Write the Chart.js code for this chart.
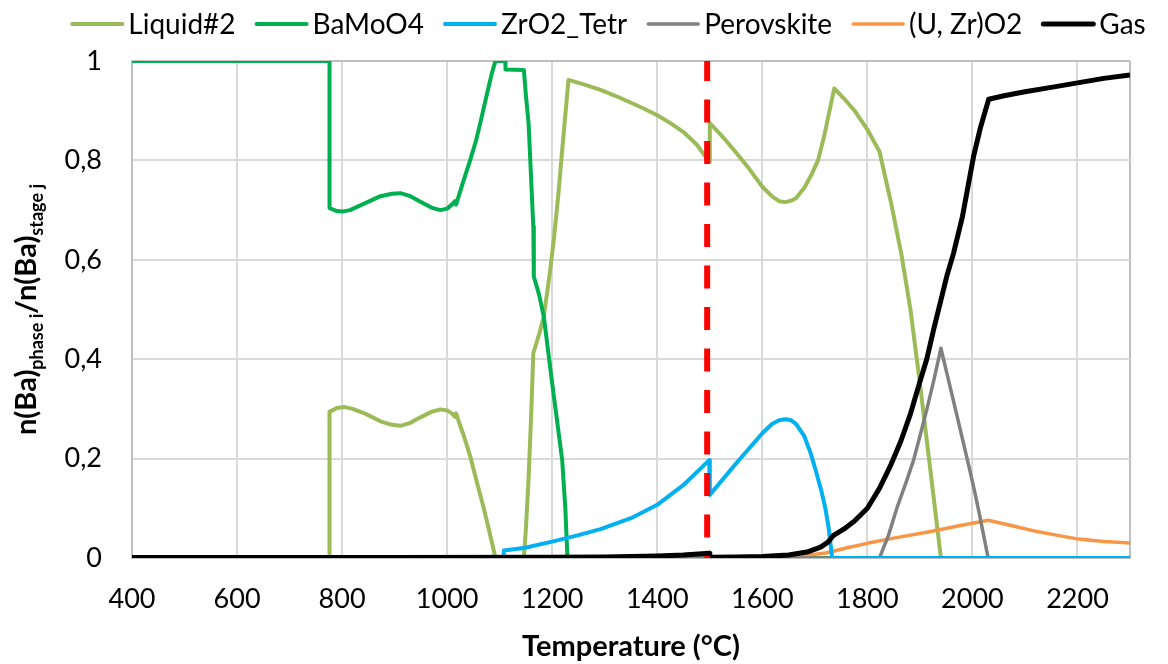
<!DOCTYPE html>
<html>
<head>
<meta charset="utf-8">
<script src="https://cdn.jsdelivr.net/npm/chart.js@4.4.1/dist/chart.umd.min.js"></script>
<style>
  html, body { margin: 0; padding: 0; background: #ffffff; }
  #wrap { width: 1168px; height: 664px; }
</style>
</head>
<body>
<div id="wrap"><canvas id="chart" width="1168" height="664"></canvas></div>
<script>
// Ba distribution between phases versus temperature

// Liquid#2
const liquidT = [400, 776, 776, 790, 803, 820, 845, 873, 895, 911, 930, 949, 970, 987, 1000, 1010, 1015, 1017, 1022, 1032, 1044, 1056, 1069, 1080, 1092, 1146, 1150, 1155, 1160, 1164, 1175, 1184, 1195, 1203, 1212, 1219, 1231, 1260, 1292, 1320, 1350, 1375, 1400, 1425, 1450, 1475, 1499, 1500, 1525, 1550, 1575, 1600, 1619, 1632, 1644, 1655, 1664, 1680, 1693, 1706, 1718, 1728, 1737, 1755, 1775, 1800, 1823, 1845, 1865, 1882, 1899, 1919, 1940, 2300];
const liquidV = [0, 0, 0.294, 0.302, 0.304, 0.300, 0.290, 0.275, 0.268, 0.266, 0.272, 0.283, 0.294, 0.299, 0.297, 0.290, 0.284, 0.291, 0.275, 0.245, 0.204, 0.155, 0.103, 0.055, 0.0, 0, 0.06, 0.16, 0.29, 0.412, 0.45, 0.486, 0.57, 0.64, 0.735, 0.821, 0.962, 0.953, 0.942, 0.930, 0.916, 0.904, 0.891, 0.875, 0.857, 0.832, 0.797, 0.875, 0.847, 0.816, 0.783, 0.747, 0.727, 0.718, 0.716, 0.719, 0.724, 0.745, 0.77, 0.80, 0.85, 0.90, 0.945, 0.925, 0.901, 0.862, 0.818, 0.715, 0.61, 0.50, 0.36, 0.185, 0.0, 0];

// BaMoO4
const bamoT = [400, 776, 776, 790, 800, 815, 840, 873, 895, 911, 930, 949, 970, 987, 1000, 1010, 1015, 1017, 1022, 1032, 1044, 1055, 1063, 1075, 1085, 1092, 1111, 1111, 1146, 1150, 1155, 1160, 1164, 1165, 1175, 1184, 1200, 1210, 1219, 1225, 1229, 2300];
const bamoV = [1, 1, 0.704, 0.698, 0.697, 0.700, 0.712, 0.728, 0.733, 0.734, 0.728, 0.717, 0.705, 0.700, 0.703, 0.712, 0.718, 0.711, 0.728, 0.762, 0.801, 0.840, 0.875, 0.930, 0.975, 1.0, 1.0, 0.983, 0.982, 0.93, 0.875, 0.76, 0.667, 0.566, 0.53, 0.486, 0.351, 0.27, 0.197, 0.1, 0.0, 0];

// ZrO2_Tetr
const zrT = [400, 1108, 1108, 1146, 1200, 1250, 1292, 1350, 1400, 1450, 1499, 1500, 1550, 1600, 1619, 1632, 1644, 1655, 1664, 1680, 1692, 1702, 1712, 1720, 1726, 1733, 2300];
const zrV = [0, 0, 0.015, 0.02, 0.033, 0.046, 0.058, 0.08, 0.107, 0.147, 0.197, 0.127, 0.19, 0.251, 0.27, 0.277, 0.279, 0.277, 0.27, 0.245, 0.211, 0.175, 0.137, 0.1, 0.063, 0.0, 0];

// Perovskite
const perT = [400, 1823, 1840, 1857, 1873, 1888, 1900, 1913, 1927, 1940, 1954, 1968, 1982, 1995, 2005, 2013, 2030, 2300];
const perV = [0, 0, 0.045, 0.103, 0.15, 0.197, 0.245, 0.298, 0.36, 0.422, 0.36, 0.298, 0.235, 0.177, 0.13, 0.09, 0.0, 0];

// (U, Zr)O2
const uzT = [1500, 1550, 1600, 1650, 1690, 1720, 1733, 1760, 1802, 1850, 1913, 1970, 2030, 2080, 2120, 2160, 2202, 2250, 2300];
const uzV = [0, 0.0005, 0.001, 0.003, 0.006, 0.01, 0.013, 0.02, 0.03, 0.04, 0.052, 0.064, 0.076, 0.064, 0.054, 0.046, 0.038, 0.033, 0.03];

// Gas
const gasT = [400, 900, 1200, 1300, 1400, 1450, 1499, 1500, 1550, 1600, 1650, 1685, 1711, 1725, 1735, 1755, 1775, 1800, 1823, 1845, 1864, 1882, 1899, 1913, 1926, 1940, 1952, 1964, 1981, 1992, 2002, 2015, 2031, 2060, 2100, 2150, 2200, 2250, 2300];
const gasV = [0.001, 0.001, 0.0015, 0.002, 0.004, 0.006, 0.0095, 0.0015, 0.002, 0.003, 0.006, 0.012, 0.022, 0.032, 0.045, 0.058, 0.074, 0.1, 0.14, 0.188, 0.236, 0.29, 0.351, 0.40, 0.459, 0.519, 0.57, 0.613, 0.687, 0.75, 0.807, 0.865, 0.923, 0.930, 0.938, 0.947, 0.956, 0.965, 0.972];

// stage boundary (vertical dashed line)
const stageT = [1495, 1495];
const stageV = [1.006, 0];

const seriesNames = ['Liquid#2', 'BaMoO4', 'ZrO2_Tetr', 'Perovskite', '(U, Zr)O2', 'Gas'];

const xTickValues = [400, 600, 800, 1000, 1200, 1400, 1600, 1800, 2000, 2200];
const xTickLabels = ['400', '600', '800', '1000', '1200', '1400', '1600', '1800', '2000', '2200'];
const yTickValues = [0, 0.2, 0.4, 0.6, 0.8, 1];
const yTickLabels = ['0', '0,2', '0,4', '0,6', '0,8', '1'];

const X_MIN = 400, X_MAX = 2300;
const FONT = 'Lato, "Open Sans", sans-serif';

function pts(t, v) { return t.map((x, i) => ({ x: x, y: v[i] })); }

function line(label, t, v, color, width, order) {
  return {
    label: label, data: pts(t, v),
    borderColor: color, backgroundColor: color,
    borderWidth: width, pointRadius: 0, pointHoverRadius: 0,
    tension: 0, fill: false, order: order,
    borderJoinStyle: 'round', borderCapStyle: 'butt'
  };
}

const datasets = [
  line(seriesNames[0], liquidT, liquidV, '#9BBB59', 4, 6),
  line(seriesNames[1], bamoT, bamoV, '#00B050', 4, 5),
  line(seriesNames[2], zrT, zrV, '#00B0F0', 4, 2),
  line(seriesNames[3], perT, perV, '#808080', 3.5, 3),
  line(seriesNames[4], uzT, uzV, '#F79646', 3.5, 4),
  line(seriesNames[5], gasT, gasV, '#000000', 5, 1),
  Object.assign(line('', stageT, stageV, '#FF0000', 6, 0), { borderDash: [23, 18.5], isStage: true })
];

// legend drawn along the top, line sample + name
const legendPlugin = {
  id: 'phaseLegend',
  afterDraw(chart) {
    const ctx = chart.ctx;
    const sample = 54, gapText = 4, gapItem = 19, cy = 24, centerX = 608;
    ctx.save();
    ctx.font = '28px ' + FONT;
    ctx.textBaseline = 'middle';
    ctx.textAlign = 'left';
    const items = chart.data.datasets.filter(d => !d.isStage);
    let total = 0;
    items.forEach((d, i) => {
      total += sample + gapText + ctx.measureText(d.label).width + (i < items.length - 1 ? gapItem : 0);
    });
    let x = centerX - total / 2;
    items.forEach(d => {
      ctx.strokeStyle = d.borderColor;
      ctx.lineWidth = d.borderWidth;
      ctx.lineCap = 'round';
      ctx.beginPath();
      ctx.moveTo(x + 2, cy);
      ctx.lineTo(x + sample - 2, cy);
      ctx.stroke();
      x += sample + gapText;
      ctx.fillStyle = '#000000';
      ctx.fillText(d.label, x, cy + 1);
      x += ctx.measureText(d.label).width + gapItem;
    });
    ctx.restore();
  }
};

// rotated y-axis title with subscripts
const yTitleParts = [
  { text: 'n(Ba)', sub: false },
  { text: 'phase i', sub: true },
  { text: '/n(Ba)', sub: false },
  { text: 'stage j', sub: true }
];
const yTitlePlugin = {
  id: 'yTitle',
  afterDraw(chart) {
    const ctx = chart.ctx;
    const area = chart.chartArea;
    const mainFont = 'bold 29px ' + FONT;
    const subFont = 'bold 18px ' + FONT;
    ctx.save();
    let total = 0;
    yTitleParts.forEach(p => { ctx.font = p.sub ? subFont : mainFont; total += ctx.measureText(p.text).width; });
    ctx.translate(36, (area.top + area.bottom) / 2);
    ctx.rotate(-Math.PI / 2);
    ctx.fillStyle = '#000000';
    ctx.textBaseline = 'alphabetic';
    ctx.textAlign = 'left';
    let x = -total / 2;
    yTitleParts.forEach(p => {
      ctx.font = p.sub ? subFont : mainFont;
      ctx.fillText(p.text, x, p.sub ? 7 : 0);
      x += ctx.measureText(p.text).width;
    });
    ctx.restore();
  }
};

new Chart(document.getElementById('chart'), {
  type: 'line',
  data: { datasets: datasets },
  plugins: [legendPlugin, yTitlePlugin],
  options: {
    responsive: false,
    devicePixelRatio: 1,
    animation: false,
    layout: { padding: { top: 61, right: 38, bottom: 0, left: 0 } },
    plugins: {
      legend: { display: false },
      tooltip: { enabled: false },
      title: { display: false }
    },
    scales: {
      x: {
        type: 'linear',
        min: X_MIN, max: X_MAX,
        afterBuildTicks(scale) { scale.ticks = xTickValues.concat([X_MAX]).map(v => ({ value: v })); },
        afterFit(scale) { scale.height = 106; },
        ticks: {
          autoSkip: false, maxRotation: 0, minRotation: 0,
          padding: 25, color: '#000000',
          font: { family: FONT, size: 27 },
          callback(value) { const i = xTickValues.indexOf(value); return i >= 0 ? xTickLabels[i] : ''; }
        },
        grid: {
          drawTicks: false, lineWidth: 2,
          color(ctx) { return ctx.tick && ctx.tick.value === X_MAX ? '#BFBFBF' : '#D9D9D9'; }
        },
        border: { display: true, color: '#BFBFBF', width: 2 },
        title: {
          display: true, text: 'Temperature (°C)', color: '#000000',
          font: { family: FONT, size: 29, weight: 'bold' },
          padding: { top: 0, bottom: 0 }
        }
      },
      y: {
        type: 'linear',
        min: 0, max: 1,
        afterBuildTicks(scale) { scale.ticks = yTickValues.map(v => ({ value: v })); },
        afterFit(scale) { scale.width = 132; },
        ticks: {
          padding: 30, color: '#000000',
          font: { family: FONT, size: 27 },
          callback(value) { const i = yTickValues.indexOf(value); return i >= 0 ? yTickLabels[i] : ''; }
        },
        grid: {
          drawTicks: false, lineWidth: 2,
          color(ctx) { return ctx.tick && ctx.tick.value === 1 ? '#BFBFBF' : '#D9D9D9'; }
        },
        border: { display: true, color: '#BFBFBF', width: 2 }
      }
    }
  }
});
</script>
</body>
</html>
